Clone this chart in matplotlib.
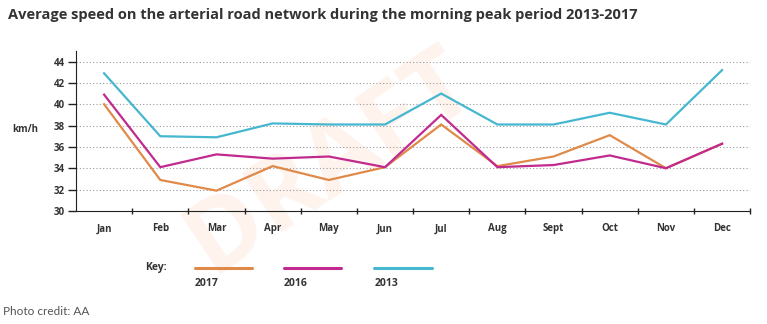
import numpy as np
import matplotlib.pyplot as plt
from matplotlib.lines import Line2D

months = ['Jan', 'Feb', 'Mar', 'Apr', 'May', 'Jun', 'Jul', 'Aug', 'Sept', 'Oct', 'Nov', 'Dec']
speed_2017 = [40.0, 32.9, 31.9, 34.2, 32.9, 34.1, 38.1, 34.2, 35.1, 37.1, 34.0, 36.3]
speed_2016 = [40.9, 34.1, 35.3, 34.9, 35.1, 34.1, 39.0, 34.1, 34.3, 35.2, 34.0, 36.3]
speed_2013 = [42.9, 37.0, 36.9, 38.2, 38.1, 38.1, 41.0, 38.1, 38.1, 39.2, 38.1, 43.2]
years = ['2017', '2016', '2013']
colors = ['#e08a4a', '#c12a8e', '#45b7d0']

plt.rcParams['font.family'] = ['Open Sans', 'DejaVu Sans']

fig = plt.figure(figsize=(7.67, 3.24), dpi=100)
ax = fig.add_axes([0.0991, 0.349, 0.879, 0.494])
ax.set_zorder(2)
ax.patch.set_alpha(0)

# faint watermark behind everything
fig.text(0.43, 0.50, 'DRAFT', fontsize=72, fontweight='bold', color='#fef3ed',
         rotation=34, ha='center', va='center', zorder=0)

x = np.arange(len(months))
for vals, c in zip([speed_2017, speed_2016, speed_2013], colors):
    ax.plot(x, vals, color=c, lw=1.6, solid_joinstyle='miter')

ax.set_xlim(-0.5, 11.5)
ax.set_ylim(30, 45)
ax.set_yticks(np.arange(30, 45, 2))
for g in np.arange(32, 45, 2):
    ax.axhline(g, color='#999999', lw=0.8, ls=(0, (1, 2)), zorder=0)

# ticks at month boundaries, labels at month centres
ax.set_xticks(list(x[:-1] + 0.5) + [11.5])
ax.set_xticklabels([])
ax.set_xticks(x, minor=True)
ax.set_xticklabels(months, minor=True)
ax.tick_params(axis='x', which='major', length=5, width=1, direction='inout', color='#222222')
ax.tick_params(axis='x', which='minor', length=0, pad=9, labelsize=7, labelcolor='#333333')
ax.tick_params(axis='y', length=6, width=1, color='#222222', pad=2, labelsize=7, labelcolor='#333333')
for lab in ax.get_xticklabels(minor=True) + ax.get_yticklabels():
    lab.set_fontweight('bold')

for s in ['top', 'right']:
    ax.spines[s].set_visible(False)
ax.spines['left'].set_color('#222222')
ax.spines['bottom'].set_color('#222222')

fig.text(0.016, 0.600, 'km/h', fontsize=7, fontweight='bold', color='#333333', va='center')

fig.text(0.010, 0.955, 'Average speed on the arterial road network during the morning peak period 2013-2017',
         fontsize=10.5, fontweight='bold', color='#333333', va='center')

# key
fig.text(0.189, 0.173, 'Key:', fontsize=7.5, fontweight='bold', color='#333333', va='center')
key_x = [0.254, 0.370, 0.488]
for kx, yr, c in zip(key_x, years, colors):
    fig.add_artist(Line2D([kx, kx + 0.075], [0.173, 0.173], color=c, lw=2.2,
                          solid_capstyle='round', transform=fig.transFigure))
    fig.text(kx, 0.125, yr, fontsize=7.5, fontweight='bold', color='#333333', va='center')

fig.text(0.004, 0.040, 'Photo credit: AA', fontsize=8.5, color='#555555', va='center',
         family=['Lato', 'DejaVu Sans'])

plt.savefig('out.png', dpi=100)
